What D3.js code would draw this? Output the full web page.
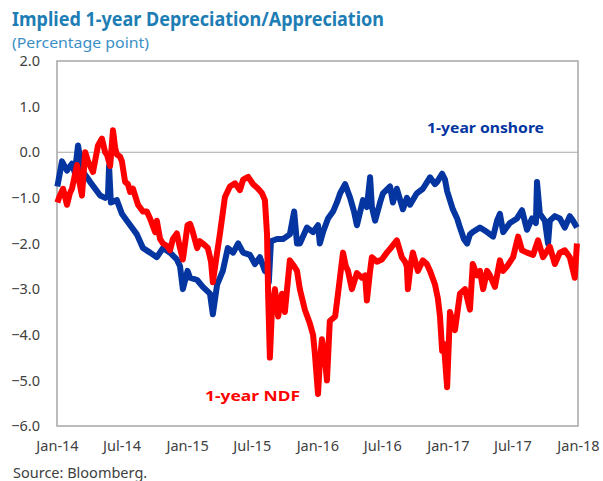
<!DOCTYPE html>
<html>
<head>
<meta charset="utf-8">
<script src="https://cdn.jsdelivr.net/npm/d3@7"></script>
<style>
    body { margin: 0; background: #fff; }
    svg { display: block; font-family: "Noto Sans", "Open Sans", sans-serif; }
</style>
</head>
<body>
<script>
/*global d3*/

var titleText = "Implied 1-year Depreciation/Appreciation",
    subtitleText = "(Percentage point)",
    sourceText = "Source: Bloomberg.";

var yTicks = [2, 1, 0, -1, -2, -3, -4, -5, -6];

var xTickDates = ["2014-01-01", "2014-07-01", "2015-01-01", "2015-07-01", "2016-01-01",
    "2016-07-01", "2017-01-01", "2017-07-01", "2018-01-01"];

/** 1-year onshore */
var onshoreDates = [
    "2014-01-02", "2014-01-15", "2014-01-29", "2014-02-12", "2014-02-20", "2014-03-01", "2014-03-12", "2014-03-26",
    "2014-04-04", "2014-04-18", "2014-05-02", "2014-05-16", "2014-05-24", "2014-05-27", "2014-06-01", "2014-06-18",
    "2014-07-02", "2014-07-16", "2014-07-30", "2014-08-13", "2014-08-30", "2014-09-19", "2014-10-08", "2014-10-25",
    "2014-11-14", "2014-12-03", "2014-12-12", "2014-12-20", "2015-01-02", "2015-01-09", "2015-01-29", "2015-02-14",
    "2015-03-06", "2015-03-14", "2015-03-26", "2015-04-11", "2015-04-25", "2015-05-10", "2015-05-24", "2015-06-07",
    "2015-06-26", "2015-07-10", "2015-07-24", "2015-08-07", "2015-08-13", "2015-08-18", "2015-08-24", "2015-09-10",
    "2015-09-27", "2015-10-16", "2015-10-28", "2015-11-05", "2015-11-13", "2015-12-03", "2015-12-20", "2016-01-03",
    "2016-01-08", "2016-01-17", "2016-01-31", "2016-02-14", "2016-02-25", "2016-03-05", "2016-03-19", "2016-04-02",
    "2016-04-13", "2016-04-21", "2016-05-08", "2016-05-19", "2016-05-28", "2016-06-02", "2016-06-11", "2016-06-25",
    "2016-07-03", "2016-07-23", "2016-07-31", "2016-08-11", "2016-08-28", "2016-09-08", "2016-09-17", "2016-10-06",
    "2016-10-23", "2016-11-12", "2016-11-26", "2016-12-02", "2016-12-16", "2016-12-24", "2016-12-30", "2017-01-15",
    "2017-01-27", "2017-02-04", "2017-02-15", "2017-02-24", "2017-03-04", "2017-03-12", "2017-04-01", "2017-04-21",
    "2017-05-08", "2017-05-19", "2017-05-27", "2017-06-05", "2017-06-24", "2017-07-14", "2017-07-28", "2017-08-11",
    "2017-08-25", "2017-09-05", "2017-09-08", "2017-09-16", "2017-09-30", "2017-10-09", "2017-10-14", "2017-10-28",
    "2017-11-11", "2017-11-25", "2017-12-09", "2017-12-18", "2017-12-29"
];
var onshoreValues = [
    -0.75, -0.2, -0.4, -0.25, -0.45, 0.15, -0.4, -0.55,
    -0.65, -0.8, -0.95, -1.0, -0.95, -0.3, -1.1, -1.05,
    -1.35, -1.5, -1.65, -1.8, -2.1, -2.2, -2.3, -2.1,
    -2.2, -2.35, -2.5, -3.0, -2.6, -2.75, -2.8, -2.95,
    -3.1, -3.55, -2.9, -2.6, -2.1, -2.2, -2.0, -2.2,
    -2.25, -2.45, -2.3, -2.6, -2.55, -2.85, -1.95, -1.9,
    -1.9, -1.8, -1.3, -2.0, -2.0, -1.65, -1.75, -1.6,
    -2.0, -1.75, -1.45, -1.3, -1.1, -0.9, -0.7, -1.0,
    -1.3, -1.6, -1.05, -1.2, -0.55, -1.2, -1.5, -1.1,
    -0.9, -0.75, -1.1, -0.8, -1.25, -1.0, -1.15, -0.9,
    -0.8, -0.55, -0.7, -0.65, -0.47, -0.6, -0.85, -1.25,
    -1.45, -1.65, -1.9, -2.0, -1.8, -1.75, -1.65, -1.75,
    -1.85, -1.5, -1.35, -1.75, -1.55, -1.45, -1.27, -1.7,
    -1.45, -1.55, -0.65, -1.35, -1.5, -2.0, -1.5, -1.4,
    -1.45, -1.65, -1.4, -1.5, -1.65
];

/** 1-year NDF */
var ndfDates = [
    "2014-01-02", "2014-01-09", "2014-01-18", "2014-01-29", "2014-02-06", "2014-02-12", "2014-02-26", "2014-03-06",
    "2014-03-12", "2014-03-21", "2014-03-29", "2014-04-12", "2014-04-20", "2014-04-26", "2014-05-07", "2014-05-16",
    "2014-05-21", "2014-05-30", "2014-06-07", "2014-06-13", "2014-06-18", "2014-06-27", "2014-07-02", "2014-07-11",
    "2014-07-19", "2014-07-25", "2014-08-02", "2014-08-16", "2014-08-30", "2014-09-10", "2014-09-19", "2014-10-03",
    "2014-10-08", "2014-10-17", "2014-10-25", "2014-11-05", "2014-11-14", "2014-11-22", "2014-12-03", "2014-12-12",
    "2014-12-20", "2015-01-02", "2015-01-09", "2015-01-15", "2015-01-29", "2015-02-06", "2015-02-14", "2015-02-28",
    "2015-03-09", "2015-03-14", "2015-03-26", "2015-04-03", "2015-04-17", "2015-05-01", "2015-05-15", "2015-05-29",
    "2015-06-07", "2015-06-21", "2015-07-05", "2015-07-19", "2015-07-30", "2015-08-07", "2015-08-13", "2015-08-16",
    "2015-08-21", "2015-08-27", "2015-09-04", "2015-09-13", "2015-09-24", "2015-10-02", "2015-10-16", "2015-10-28",
    "2015-11-05", "2015-11-13", "2015-11-27", "2015-12-11", "2015-12-20", "2015-12-25", "2016-01-03", "2016-01-08",
    "2016-01-14", "2016-01-22", "2016-01-28", "2016-02-05", "2016-02-20", "2016-02-28", "2016-03-13", "2016-03-21",
    "2016-03-27", "2016-04-07", "2016-04-21", "2016-05-05", "2016-05-14", "2016-05-19", "2016-05-28", "2016-06-02",
    "2016-06-16", "2016-06-30", "2016-07-14", "2016-07-28", "2016-08-11", "2016-08-25", "2016-09-03", "2016-09-08",
    "2016-09-11", "2016-09-20", "2016-09-25", "2016-10-09", "2016-10-23", "2016-11-03", "2016-11-12", "2016-11-26",
    "2016-12-04", "2016-12-10", "2016-12-16", "2016-12-21", "2016-12-30", "2017-01-07", "2017-01-21", "2017-02-04",
    "2017-02-18", "2017-03-04", "2017-03-12", "2017-03-24", "2017-04-01", "2017-04-10", "2017-04-21", "2017-04-29",
    "2017-05-13", "2017-05-27", "2017-06-05", "2017-06-16", "2017-07-03", "2017-07-17", "2017-07-28", "2017-08-11",
    "2017-08-28", "2017-09-11", "2017-09-25", "2017-10-14", "2017-10-28", "2017-11-11", "2017-11-25", "2017-12-09",
    "2017-12-23", "2017-12-29"
];
var ndfValues = [
    -1.1, -0.95, -0.8, -1.15, -0.9, -0.8, -0.28, -0.7,
    -0.95, 0.0, -0.2, -0.43, -0.1, 0.15, 0.3, 0.0,
    -0.05, -0.3, 0.48, 0.1, -0.05, -0.1, -0.2, -0.65,
    -0.7, -0.87, -0.8, -1.15, -1.3, -1.3, -1.45, -1.75,
    -1.5, -1.9, -2.0, -2.05, -2.15, -1.9, -1.78, -2.1,
    -2.35, -1.6, -1.57, -1.7, -2.1, -1.95, -2.0, -2.1,
    -2.4, -2.85, -2.2, -1.78, -0.98, -0.75, -0.68, -0.83,
    -0.6, -0.54, -0.7, -0.8, -0.9, -1.05, -1.8, -3.1,
    -4.5, -3.4, -3.0, -3.6, -3.1, -3.5, -2.37, -2.5,
    -2.6, -3.0, -3.45, -3.75, -4.0, -4.4, -5.3, -4.6,
    -4.1, -4.5, -5.0, -3.7, -3.6, -3.1, -2.2, -2.5,
    -2.6, -3.0, -2.65, -2.75, -2.7, -3.25, -2.6, -2.3,
    -2.4, -2.35, -2.2, -2.07, -1.93, -2.3, -2.4, -2.5,
    -3.0, -2.4, -2.2, -2.6, -2.37, -2.45, -2.6, -2.9,
    -3.2, -3.6, -4.35, -4.2, -5.15, -3.5, -3.9, -3.1,
    -3.0, -3.45, -2.45, -2.7, -2.6, -3.0, -2.6, -2.7,
    -2.95, -2.37, -2.6, -2.5, -2.3, -1.85, -2.15, -2.2,
    -2.25, -1.93, -2.3, -2.07, -2.45, -2.2, -2.15, -2.3,
    -2.75, -2.0
];

window.onload = function () {
    var width = 603,
        height = 481,
        parse = d3.timeParse("%Y-%m-%d"),
        fmt = d3.timeFormat("%b-%y");

    /** plot box in pixels */
    var left = 57, right = 578, top = 61, bottom = 426;

    var svg = d3.select("body").append("svg")
        .attr("width", width)
        .attr("height", height);

    var x = d3.scaleTime()
        .domain([parse("2014-01-01"), parse("2018-01-01")])
        .range([left, right]);

    var y = d3.scaleLinear()
        .domain([-6, 2])
        .range([bottom, top]);

    /** Title block */
    svg.append("text")
        .attr("x", 12)
        .attr("y", 26)
        .attr("fill", "#1d7db5")
        .attr("font-size", 19)
        .attr("font-weight", "bold")
        .attr("textLength", 372)
        .attr("lengthAdjust", "spacingAndGlyphs")
        .text(titleText);

    svg.append("text")
        .attr("x", 12)
        .attr("y", 48)
        .attr("fill", "#3b8fc6")
        .attr("font-size", 14.5)
        .attr("textLength", 137)
        .attr("lengthAdjust", "spacingAndGlyphs")
        .text(subtitleText);

    /** Plot frame */
    svg.append("rect")
        .attr("x", left)
        .attr("y", top)
        .attr("width", right - left)
        .attr("height", bottom - top)
        .attr("fill", "none")
        .attr("stroke", "#a6a6a6")
        .attr("stroke-width", 1.5);

    /** zero line */
    svg.append("line")
        .attr("x1", left)
        .attr("x2", right)
        .attr("y1", y(0))
        .attr("y2", y(0))
        .attr("stroke", "#a6a6a6")
        .attr("stroke-width", 1.2);

    /** Y axis labels */
    var yAxis = d3.axisLeft(y)
        .tickValues(yTicks)
        .tickFormat(d3.format(".1f"))
        .tickSize(0)
        .tickPadding(17);

    var gy = svg.append("g")
        .attr("transform", "translate(" + left + ",0)")
        .call(yAxis);
    gy.select(".domain").remove();
    gy.selectAll("text")
        .attr("font-size", 14.5)
        .attr("font-family", "Noto Sans, sans-serif")
        .attr("fill", "#404040");

    /** X axis labels */
    var xAxis = d3.axisBottom(x)
        .tickValues(xTickDates.map(parse))
        .tickFormat(fmt)
        .tickSize(0)
        .tickPadding(15);

    var gx = svg.append("g")
        .attr("transform", "translate(0," + bottom + ")")
        .call(xAxis);
    gx.select(".domain").remove();
    gx.selectAll("text")
        .attr("font-size", 14.5)
        .attr("font-family", "Noto Sans, sans-serif")
        .attr("fill", "#404040");

    /** Series lines */
    var line = d3.line()
        .x(function (d) { return x(d.date); })
        .y(function (d) { return y(d.value); });

    var onshore = onshoreDates.map(function (d, i) {
        return { date: parse(d), value: onshoreValues[i] };
    });
    var ndf = ndfDates.map(function (d, i) {
        return { date: parse(d), value: ndfValues[i] };
    });

    svg.append("path")
        .datum(onshore)
        .attr("d", line)
        .attr("fill", "none")
        .attr("stroke", "#0435a0")
        .attr("stroke-width", 6)
        .attr("stroke-linejoin", "round");

    svg.append("path")
        .datum(ndf)
        .attr("d", line)
        .attr("fill", "none")
        .attr("stroke", "#ff0000")
        .attr("stroke-width", 6)
        .attr("stroke-linejoin", "round");

    /** Series labels */
    svg.append("text")
        .attr("x", 427)
        .attr("y", 133)
        .attr("fill", "#0435a0")
        .attr("font-size", 14.5)
        .attr("font-weight", "bold")
        .attr("textLength", 117)
        .attr("lengthAdjust", "spacingAndGlyphs")
        .text("1-year onshore");

    svg.append("text")
        .attr("x", 205)
        .attr("y", 401)
        .attr("fill", "#ff0000")
        .attr("font-size", 14.5)
        .attr("font-weight", "bold")
        .attr("textLength", 95)
        .attr("lengthAdjust", "spacingAndGlyphs")
        .text("1-year NDF");

    /** Source */
    svg.append("text")
        .attr("x", 13)
        .attr("y", 478)
        .attr("fill", "#404040")
        .attr("font-size", 14.5)
        .text(sourceText);
};
</script>
</body>
</html>
